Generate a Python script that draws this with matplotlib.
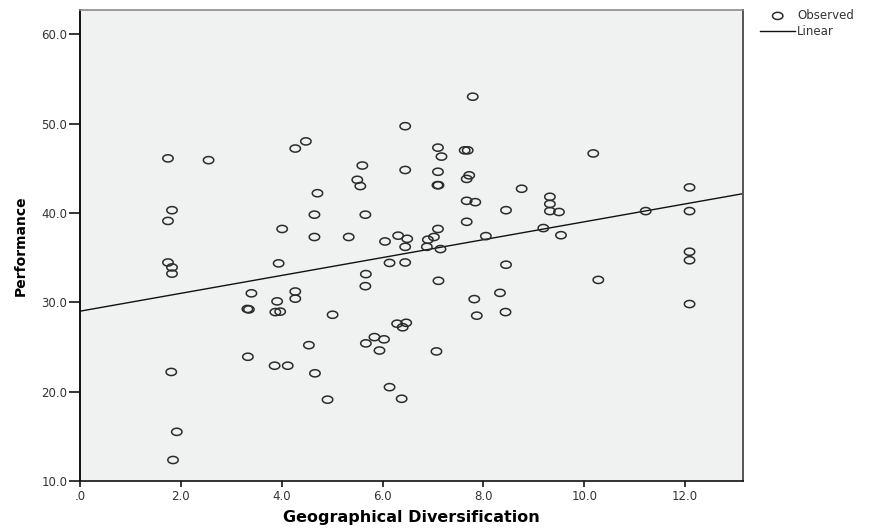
import matplotlib
matplotlib.use("Agg")
import matplotlib.pyplot as plt
import numpy as np
from matplotlib.ticker import FuncFormatter

# Observed points (Geographical Diversification, Performance)
geo_div = [1.745, 2.55, 4.27, 1.825, 1.745, 4.01, 1.745, 1.825, 1.825, 3.94,
           3.40, 4.27, 4.27, 3.32, 3.35, 3.91, 3.875, 3.97, 3.33, 3.86,
           4.12, 1.81, 1.92, 1.845, 7.79, 6.45, 4.48, 7.10, 7.63, 7.69,
           7.17, 5.60, 6.45, 7.10, 7.72, 7.67, 5.50, 5.56, 7.09, 7.11,
           8.76, 4.71, 4.65, 5.66, 7.67, 7.84, 8.45, 7.67, 7.10, 8.05,
           4.65, 5.33, 6.31, 6.05, 6.49, 6.45, 6.90, 7.02, 6.88, 7.15,
           6.14, 6.45, 8.45, 5.67, 7.11, 5.66, 7.82, 8.33, 7.87, 8.44,
           5.01, 6.29, 6.47, 6.40, 5.84, 6.03, 5.67, 5.94, 4.54, 7.07,
           4.66, 6.14, 4.91, 6.38, 10.18, 9.32, 9.32, 9.32, 9.50, 12.09,
           12.09, 11.22, 9.19, 9.54, 12.09, 12.09, 10.28, 12.09]
performance = [46.1, 45.9, 47.2, 40.3, 39.1, 38.2, 34.45, 33.9, 33.2, 34.35,
               31.0, 31.2, 30.4, 29.25, 29.2, 30.1, 28.9, 28.95, 23.9, 22.9,
               22.9, 22.2, 15.5, 12.35, 53.0, 49.7, 48.0, 47.3, 47.0, 47.0,
               46.3, 45.3, 44.8, 44.6, 44.2, 43.8, 43.7, 43.0, 43.1, 43.1,
               42.7, 42.2, 39.8, 39.8, 41.35, 41.2, 40.3, 39.0, 38.2, 37.4,
               37.3, 37.3, 37.45, 36.8, 37.1, 36.2, 37.0, 37.3, 36.2, 35.95,
               34.4, 34.45, 34.2, 33.15, 32.4, 31.8, 30.35, 31.05, 28.5, 28.9,
               28.6, 27.6, 27.7, 27.2, 26.1, 25.85, 25.4, 24.6, 25.2, 24.5,
               22.05, 20.5, 19.1, 19.2, 46.65, 41.8, 41.0, 40.2, 40.1, 42.85,
               40.2, 40.2, 38.3, 37.5, 35.65, 34.7, 32.5, 29.8]

# linear fit
intercept = 29.0
slope = 1.0

x_ticks = [0, 2, 4, 6, 8, 10, 12]
y_ticks = [10, 20, 30, 40, 50, 60]
x_max = 13.15
y_min, y_max = 10, 62.7

plt.rcParams['font.family'] = ['DejaVu Sans']

fig = plt.figure(figsize=(8.74, 5.31), dpi=100)
ax = fig.add_axes([80/874, 1 - 481/531, 663/874, 471/531])
ax.set_facecolor('#f0f1f1')

# slightly wide ellipse like the SPSS output
t = np.linspace(0, 2*np.pi, 60)
ellipse = np.column_stack([1.45*np.cos(t), np.sin(t)])

sc = ax.scatter(geo_div, performance, marker=ellipse, s=56,
                facecolors='none', edgecolors='#2b2b2b', linewidths=1.1,
                zorder=3)
xs = np.array([0, x_max])
ln, = ax.plot(xs, intercept + slope*xs, color='#111111', lw=1.0, zorder=2)

ax.set_xlim(0, x_max)
ax.set_ylim(y_min, y_max)
ax.set_xticks(x_ticks)
ax.set_yticks(y_ticks)

def fmt_x(v, pos):
    s = '{:.1f}'.format(v)
    return s[1:] if s.startswith('0') else s

ax.xaxis.set_major_formatter(FuncFormatter(fmt_x))
ax.yaxis.set_major_formatter(FuncFormatter(lambda v, p: '{:.1f}'.format(v)))

ax.tick_params(axis='y', direction='out', length=8, width=1.1, pad=1,
               labelsize=8.5, labelcolor='#333333')
ax.tick_params(axis='x', direction='out', length=4.5, width=1.1, pad=2,
               labelsize=8.5, labelcolor='#333333')

ax.spines['left'].set_color('#111111')
ax.spines['left'].set_linewidth(1.4)
ax.spines['bottom'].set_color('#111111')
ax.spines['bottom'].set_linewidth(1.2)
ax.spines['top'].set_color('#8a8a8a')
ax.spines['top'].set_linewidth(1.2)
ax.spines['right'].set_color('#555555')
ax.spines['right'].set_linewidth(1.4)

ax.set_xlabel('Geographical Diversification', fontsize=11.5, fontweight='bold',
              labelpad=5)
ax.set_ylabel('Performance', fontsize=10, fontweight='bold', labelpad=10)

leg = fig.legend(handles=[sc, ln], labels=['Observed', 'Linear'],
                 loc='upper left', bbox_to_anchor=(760/874, 1 - 9/531),
                 frameon=False, handlelength=3.0, handletextpad=0.15,
                 fontsize=8.5, labelspacing=0.25, borderpad=0,
                 borderaxespad=0, scatterpoints=1)
for txt in leg.get_texts():
    txt.set_color('#333333')

fig.savefig('out.png', dpi=100)
